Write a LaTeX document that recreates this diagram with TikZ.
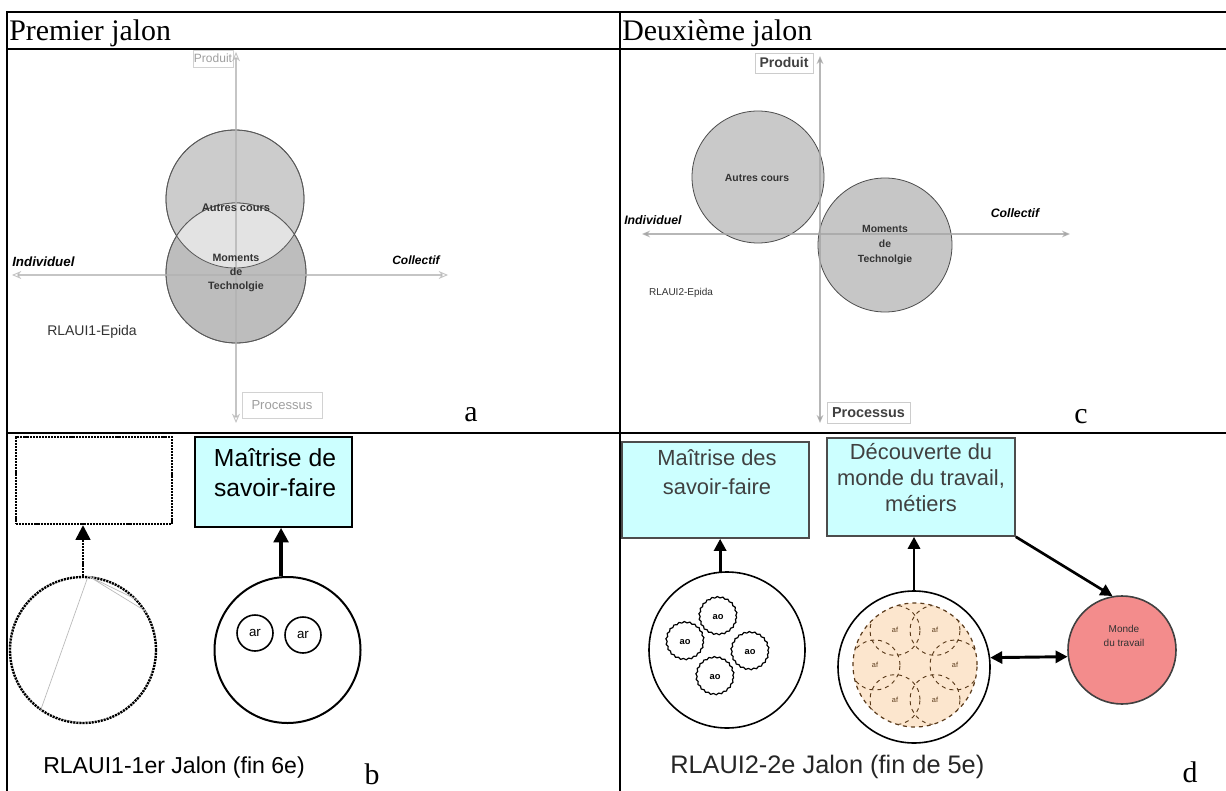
\documentclass[tikz,border=0pt]{standalone}
\usepackage{fontspec}
\setmainfont{Liberation Serif}
\newfontfamily\arialf{Liberation Sans}
\usetikzlibrary{arrows.meta,decorations.pathmorphing,calc}
\definecolor{boxcyan}{HTML}{CCFFFF}
\definecolor{peachD}{HTML}{FCE6CE}
\definecolor{coralD}{HTML}{F38C8C}
\definecolor{cellbrown}{HTML}{5A3A1A}
\newcommand{\fsz}[2]{\fontsize{#1}{#2}\selectfont}
\begin{document}
\begin{tikzpicture}[x=0.75pt,y=-0.75pt,
  tbl/.style={line width=1.5pt},
  ttl/.style={anchor=base west,inner sep=0,font=\fsz{22.4pt}{26pt}},
  plet/.style={anchor=base,inner sep=0,font=\fsz{22.4pt}{26pt}},
  axisA/.style={draw=gray!60,draw opacity=0.75,line width=1.6pt,{Stealth[open,length=7pt,width=6pt,line width=0.7pt]}-{Stealth[open,length=7pt,width=6pt,line width=0.7pt]}},
  axisC/.style={draw=gray!70,draw opacity=0.8,line width=1.4pt,{Stealth[length=6pt,width=5pt]}-{Stealth[length=6pt,width=5pt]}},
  grayball/.style={circle,inner sep=0,draw=black!65,line width=0.6pt},
  lab/.style={inner sep=0},
  thk/.style={line width=2.2pt,-{Triangle[length=9pt,width=9pt]}},
  dbl/.style={line width=2.2pt,{Triangle[length=9pt,width=9pt]}-{Triangle[length=9pt,width=9pt]}},
  cyanbox/.style={fill=boxcyan,line width=1.2pt,inner sep=0},
  beads/.style={line width=1.8pt,dash pattern=on 1.6pt off 0.7pt},
  aocirc/.style={draw,circle,minimum size=27.75pt,inner sep=0,line width=0.9pt,decorate,decoration={snake,segment length=4pt,amplitude=0.5pt},font=\arialf\bfseries\fsz{7pt}{8pt}},
  arcirc/.style={draw,circle,line width=1.2pt,minimum size=27pt,inner sep=0,font=\arialf\fsz{10pt}{12pt}},
  cell/.style={draw=cellbrown,dashed,circle,minimum size=37.5pt,inner sep=0,line width=0.7pt,font=\arialf\fsz{5.5pt}{6pt},text=cellbrown}
]
\useasboundingbox (0,0) rectangle (1226,791);
\fill[white] (0,0) rectangle (1226,791);

% ---------- table ----------
\draw[tbl] (7,791) -- (7,12) -- (1226,12);
\draw[tbl] (7,49) -- (1226,49);
\draw[tbl] (7,433) -- (1226,433);
\draw[tbl] (620,12) -- (620,791);
\node[ttl] (t1) at (9,41) {Premier jalon};
\node[ttl] (t2) at (622,41) {Deuxième jalon};

% ---------- panel a ----------
\node[grayball,minimum size=103.5pt,fill=gray!40] (autA) at (235,199) {};
\node[grayball,minimum size=105pt,fill=gray!52] (momA) at (236,273) {};
\begin{scope}
  \clip (autA.center) circle[radius=51.75pt];
  \fill[gray!22] (momA.center) circle[radius=52.5pt];
\end{scope}
\draw[black!65,line width=0.6pt] (autA.center) circle[radius=51.75pt];
\draw[black!65,line width=0.6pt] (momA.center) circle[radius=52.5pt];
\node[draw=gray!35,fill=white,inner sep=0,minimum width=30pt,minimum height=12.75pt,font=\arialf\fsz{9pt}{11pt},text=gray!75] (prodA) at (213,58.5) {Produit};
\node[draw=gray!35,fill=white,inner sep=0,minimum width=60pt,minimum height=19.5pt,font=\arialf\fsz{9.8pt}{11pt},text=gray!75] (procA) at (282,405) {Processus};
\coordinate (aTop) at (236,52);
\coordinate (aBot) at (236,423);
\coordinate (aLeft) at (12,275);
\coordinate (aRight) at (448,275);
\draw[axisA] (aBot) -- (aTop);
\draw[axisA] (aLeft) -- (aRight);
\node[lab,font=\arialf\bfseries\fsz{8.3pt}{10pt},text=black!80] (autAt) at (236,208) {Autres cours};
\node[lab,align=center,font=\arialf\bfseries\fsz{8pt}{10.5pt},text=black!80] (momAt) at (236,273) {Moments\\de\\Technolgie};
\node[lab,anchor=west,font=\arialf\bfseries\itshape\fsz{10pt}{12pt}] (indA) at (12,262) {Individuel};
\node[lab,anchor=west,font=\arialf\bfseries\itshape\fsz{9pt}{11pt}] (colA) at (392,260) {Collectif};
\node[lab,font=\arialf\fsz{10.5pt}{12pt},text=black!80] (rlA) at (92,332) {RLAUI1-Epida};
\node[plet] (la) at (471,421) {a};

% ---------- panel c ----------
\node[grayball,minimum size=99pt,fill=gray!42,draw=black!70] (autC) at (758,177) {};
\node[grayball,minimum size=100.5pt,fill=gray!45,draw=black!70] (momC) at (885,245) {};
\node[draw=gray!40,fill=white,inner sep=0,minimum width=43.5pt,minimum height=15pt,font=\arialf\bfseries\fsz{10.5pt}{12pt},text=black!75] (prodC) at (784,63) {Produit};
\node[draw=gray!40,fill=white,inner sep=0,minimum width=62.25pt,minimum height=15.75pt,font=\arialf\bfseries\fsz{10.8pt}{12pt},text=black!75] (procC) at (868.5,412.5) {Processus};
\coordinate (cTop) at (820,56);
\coordinate (cBot) at (820,423);
\coordinate (cLeft) at (642,234);
\coordinate (cRight) at (1070,234);
\draw[axisC] (cBot) -- (cTop);
\draw[axisC] (cLeft) -- (cRight);
\node[lab,font=\arialf\bfseries\fsz{7.8pt}{10pt},text=black!80] (autCt) at (757,178) {Autres cours};
\node[lab,align=center,font=\arialf\bfseries\fsz{7.8pt}{11pt},text=black!80] (momCt) at (885,245) {Moments\\de\\Technolgie};
\node[lab,anchor=west,font=\arialf\bfseries\itshape\fsz{9.2pt}{11pt}] (indC) at (624,220) {Individuel};
\node[lab,font=\arialf\bfseries\itshape\fsz{9.2pt}{11pt}] (colC) at (1015,213) {Collectif};
\node[lab,font=\arialf\fsz{7.5pt}{9pt},text=black!80] (rlC) at (681,293) {RLAUI2-Epida};
\node[plet] (lc) at (1081,423) {c};

% ---------- panel b ----------
\node[draw,beads,minimum width=117pt,minimum height=65.25pt,inner sep=0] (emptyB) at (94,480.5) {};
\node[draw,beads,circle,minimum size=109.5pt,inner sep=0] (circB) at (83,650) {};
\draw[gray!55,line width=0.5pt] (circB.86) -- (circB.235) (circB.86) -- (circB.31) (circB.86) -- (circB.42);
\draw[beads,-{Triangle[length=11pt,width=11pt]}] (circB.north) -- (circB.north |- emptyB.south);
\node[draw,cyanbox,minimum width=117.75pt,minimum height=67.5pt] (boxB) at (273.5,482) {};
\node[lab,align=center,font=\arialf\fsz{18.5pt}{23pt}] (boxBt) at (275,472.5) {Maîtrise de\\ savoir-faire};
\node[draw,circle,line width=1.5pt,minimum size=109.5pt,inner sep=0] (bigB) at (287.5,650) {};
\node[arcirc] (ar1) at (255,633) {ar};
\node[arcirc] (ar2) at (303,635) {ar};
\draw[line width=3pt,-{Triangle[length=11pt,width=11pt]}] (bigB.95) -- (bigB.95 |- boxB.south);
\node[anchor=base west,inner sep=0,font=\arialf\fsz{17.3pt}{20pt}] (capB) at (43,773) {RLAUI1-1er Jalon (fin 6e)};
\node[plet] (lb) at (372,784) {b};

% ---------- panel d ----------
\node[draw=black!70,cyanbox,minimum width=140.25pt,minimum height=72pt] (boxD1) at (715.5,490) {};
\node[lab,align=center,font=\arialf\fsz{16.4pt}{21.75pt},text=black!75] (boxD1t) at (717,472.5) {Maîtrise des\\savoir-faire};
\node[draw=black!70,cyanbox,minimum width=141pt,minimum height=73.5pt] (boxD2) at (921,487) {};
\node[lab,align=center,font=\arialf\fsz{16.4pt}{19.5pt},text=black!75] (boxD2t) at (921,478) {Découverte du\\monde du travail,\\métiers};
\node[draw,fill=white,circle,line width=1.2pt,minimum size=117pt,inner sep=0] (leftD) at (727,650) {};
\node[aocirc] (ao1) at (718,617) {ao};
\node[aocirc] (ao2) at (685,642) {ao};
\node[aocirc] (ao3) at (750,652) {ao};
\node[aocirc] (ao4) at (715,677) {ao};
\draw[thk] (leftD.95) -- (leftD.95 |- boxD1.south);
\node[draw,fill=white,circle,line width=1.2pt,minimum size=114pt,inner sep=0] (midD) at (914,667) {};
\node[draw=cellbrown,dashed,fill=peachD,circle,line width=0.9pt,minimum size=93pt,inner sep=0] (tanD) at (915,665) {};
\begin{scope}
  \clip (tanD.center) circle[radius=46.5pt];
  \node[cell] (cell1) at ($(tanD.center)+(60:30pt)$) {af};
  \node[cell] (cell2) at ($(tanD.center)+(120:30pt)$) {af};
  \node[cell] (cell3) at ($(tanD.center)+(180:30pt)$) {af};
  \node[cell] (cell4) at ($(tanD.center)+(240:30pt)$) {af};
  \node[cell] (cell5) at ($(tanD.center)+(300:30pt)$) {af};
  \node[cell] (cell6) at ($(tanD.center)+(0:30pt)$) {af};
\end{scope}
\draw[thk] (midD.north) -- (midD.north |- boxD2.south);
\node[draw=black!75,fill=coralD,circle,line width=1.2pt,minimum size=81pt,inner sep=0] (mondeD) at (1122,650) {};
\node[lab,align=center,font=\arialf\fsz{7.5pt}{10.5pt},text=black!80] (mondeDt) at (1124,636) {Monde\\du travail};
\draw[dbl] (midD.7) -- (mondeD.187);
\draw[line width=2pt,-{Triangle[length=9pt,width=9pt]}] (boxD2.south east) -- (mondeD.100);
\node[anchor=base west,inner sep=0,font=\arialf\fsz{19pt}{22pt},text=black!85] (capD) at (670,773) {RLAUI2-2e Jalon (fin de 5e)};
\node[plet] (ld) at (1190,782) {d};
\end{tikzpicture}
\end{document}
